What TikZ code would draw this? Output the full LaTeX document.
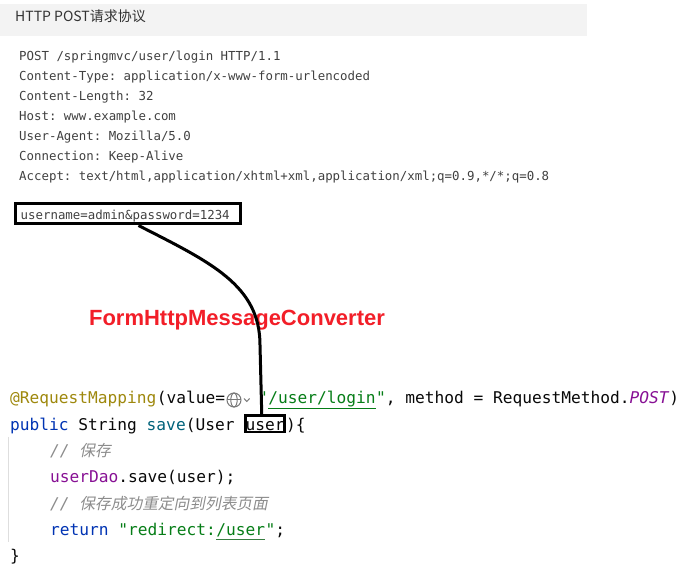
\documentclass[tikz,border=0pt]{standalone}
\usepackage{fontspec}
\setmainfont{Liberation Sans}
\setmonofont{DejaVu Sans Mono}
\newfontfamily\cjk{Noto Sans CJK SC}
\newfontfamily\cjkit[FakeSlant=0.2]{Noto Sans CJK SC}
\usetikzlibrary{calc}
\definecolor{band}{RGB}{243,243,243}
\definecolor{hdr}{RGB}{51,51,51}
\definecolor{http}{RGB}{64,64,64}
\definecolor{redc}{RGB}{242,30,40}
\definecolor{anno}{RGB}{158,136,13}
\definecolor{str}{RGB}{6,125,23}
\definecolor{purp}{RGB}{135,16,148}
\definecolor{kw}{RGB}{0,51,179}
\definecolor{fn}{RGB}{0,98,122}
\definecolor{cmt}{RGB}{140,140,140}
\definecolor{codeblack}{RGB}{8,8,8}
\definecolor{guidec}{RGB}{222,222,222}
\definecolor{iconc}{RGB}{120,120,120}
\newcommand\hdrfont{\cjk\fontsize{14}{16}\selectfont}
\newcommand\httpfont{\ttfamily\fontsize{12.4}{14}\selectfont}
\newcommand\codefont{\ttfamily\fontsize{16.2}{19}\selectfont}
\newcommand\cmtcjk{\cjkit\fontsize{15.7}{18}\selectfont}
\tikzset{
  hl/.style={anchor=base west, inner sep=0pt, font=\httpfont, text=http},
  cd/.style={anchor=base west, inner sep=0pt, font=\codefont, text=codeblack},
  conn/.style={draw=black, line width=3pt},
  icon/.style={draw=iconc, line width=1pt},
}
\begin{document}
\begin{tikzpicture}[x=1pt,y=-1pt]
\useasboundingbox (0,0) rectangle (681,572);
% header band
\fill[band] (0,4) rectangle (587,36);
\node[anchor=base west, inner sep=0pt, font=\hdrfont, text=hdr] (hdr) at (15,22) {HTTP POST请求协议};
% HTTP request
\node[hl] (h1) at (19,61) {POST /springmvc/user/login HTTP/1.1};
\node[hl] (h2) at (19,81) {Content-Type: application/x-www-form-urlencoded};
\node[hl] (h3) at (19,101) {Content-Length: 32};
\node[hl] (h4) at (19,121) {Host: www.example.com};
\node[hl] (h5) at (19,141) {User-Agent: Mozilla/5.0};
\node[hl] (h6) at (19,161) {Connection: Keep-Alive};
\node[hl] (h7) at (19,181) {Accept: text/html,application/xhtml+xml,application/xml;q=0.9,*/*;q=0.8};
\node[hl, draw=black, line width=3pt, text width=215pt, align=left, inner xsep=5pt, inner ysep=3pt, text height=13pt, text depth=1pt] (uname) at (14.2,220) {username=admin\&password=1234};
% converter label
\node[anchor=base, inner sep=0pt, font=\bfseries\fontsize{22}{26}\selectfont, text=redc] (conv) at (237,325.5) {FormHttpMessageConverter};
% code
\draw[guidec, line width=1pt] (8,437) -- (8,542);
\node[cd, text=anno] (l1a) at (10,404) {@RequestMapping};
\node[cd] (l1b) at (l1a.base east) {(value=};
\draw[icon] (234,400) circle (7pt);
\draw[icon] (234,400) ellipse (3.2pt and 7pt);
\draw[icon] (227,400) -- (241,400);
\draw[icon] (244,398.5) -- (246.8,401.5) -- (249.6,398.5);
\node[cd, text=str] (l1c) at (258,404) {"};
\node[cd, text=str] (l1d) at (l1c.base east) {/user/login};
\node[cd] (l1e) at (l1d.base east) {\textcolor{str}{"}, method = RequestMethod.\textcolor{purp}{\textit{POST}})};
\draw[str, line width=0.8pt] ([yshift=-4pt]l1d.base west) -- ([yshift=-4pt]l1d.base east);
\node[cd] (l2a) at (10,430.3) {\textcolor{kw}{public} String \textcolor{fn}{save}(User\ \null};
\node[cd, draw=black, line width=2.5pt, text height=15pt, text depth=1.5pt] (ub) at (l2a.base east) {user};
\node[cd] (l2c) at (ub.base east) {)\{};
\node[cd, text=cmt] (l3) at (50,456.6) {\textit{//} {\cmtcjk 保存}};
\node[cd] (l4) at (50,482.9) {\textcolor{purp}{userDao}.save(user);};
\node[cd, text=cmt] (l5) at (50,509.2) {\textit{//} {\cmtcjk 保存成功重定向到列表页面}};
\node[cd] (l6a) at (50,535.5) {\textcolor{kw}{return} \textcolor{str}{"redirect:}};
\node[cd, text=str] (l6b) at (l6a.base east) {/user};
\node[cd] (l6c) at (l6b.base east) {\textcolor{str}{"};};
\draw[str!60!gray, line width=0.8pt] ([yshift=-4pt]l6b.base west) -- ([yshift=-4pt]l6b.base east);
\node[cd] (l7) at (10,561.8) {\}};
% connector
\coordinate (turn) at (260,345);
\draw[conn] ([xshift=10.3pt]uname.south) .. controls (210,262) and (260,285) .. (turn) -- ([xshift=-3.5pt]ub.north);
\end{tikzpicture}
\end{document}
